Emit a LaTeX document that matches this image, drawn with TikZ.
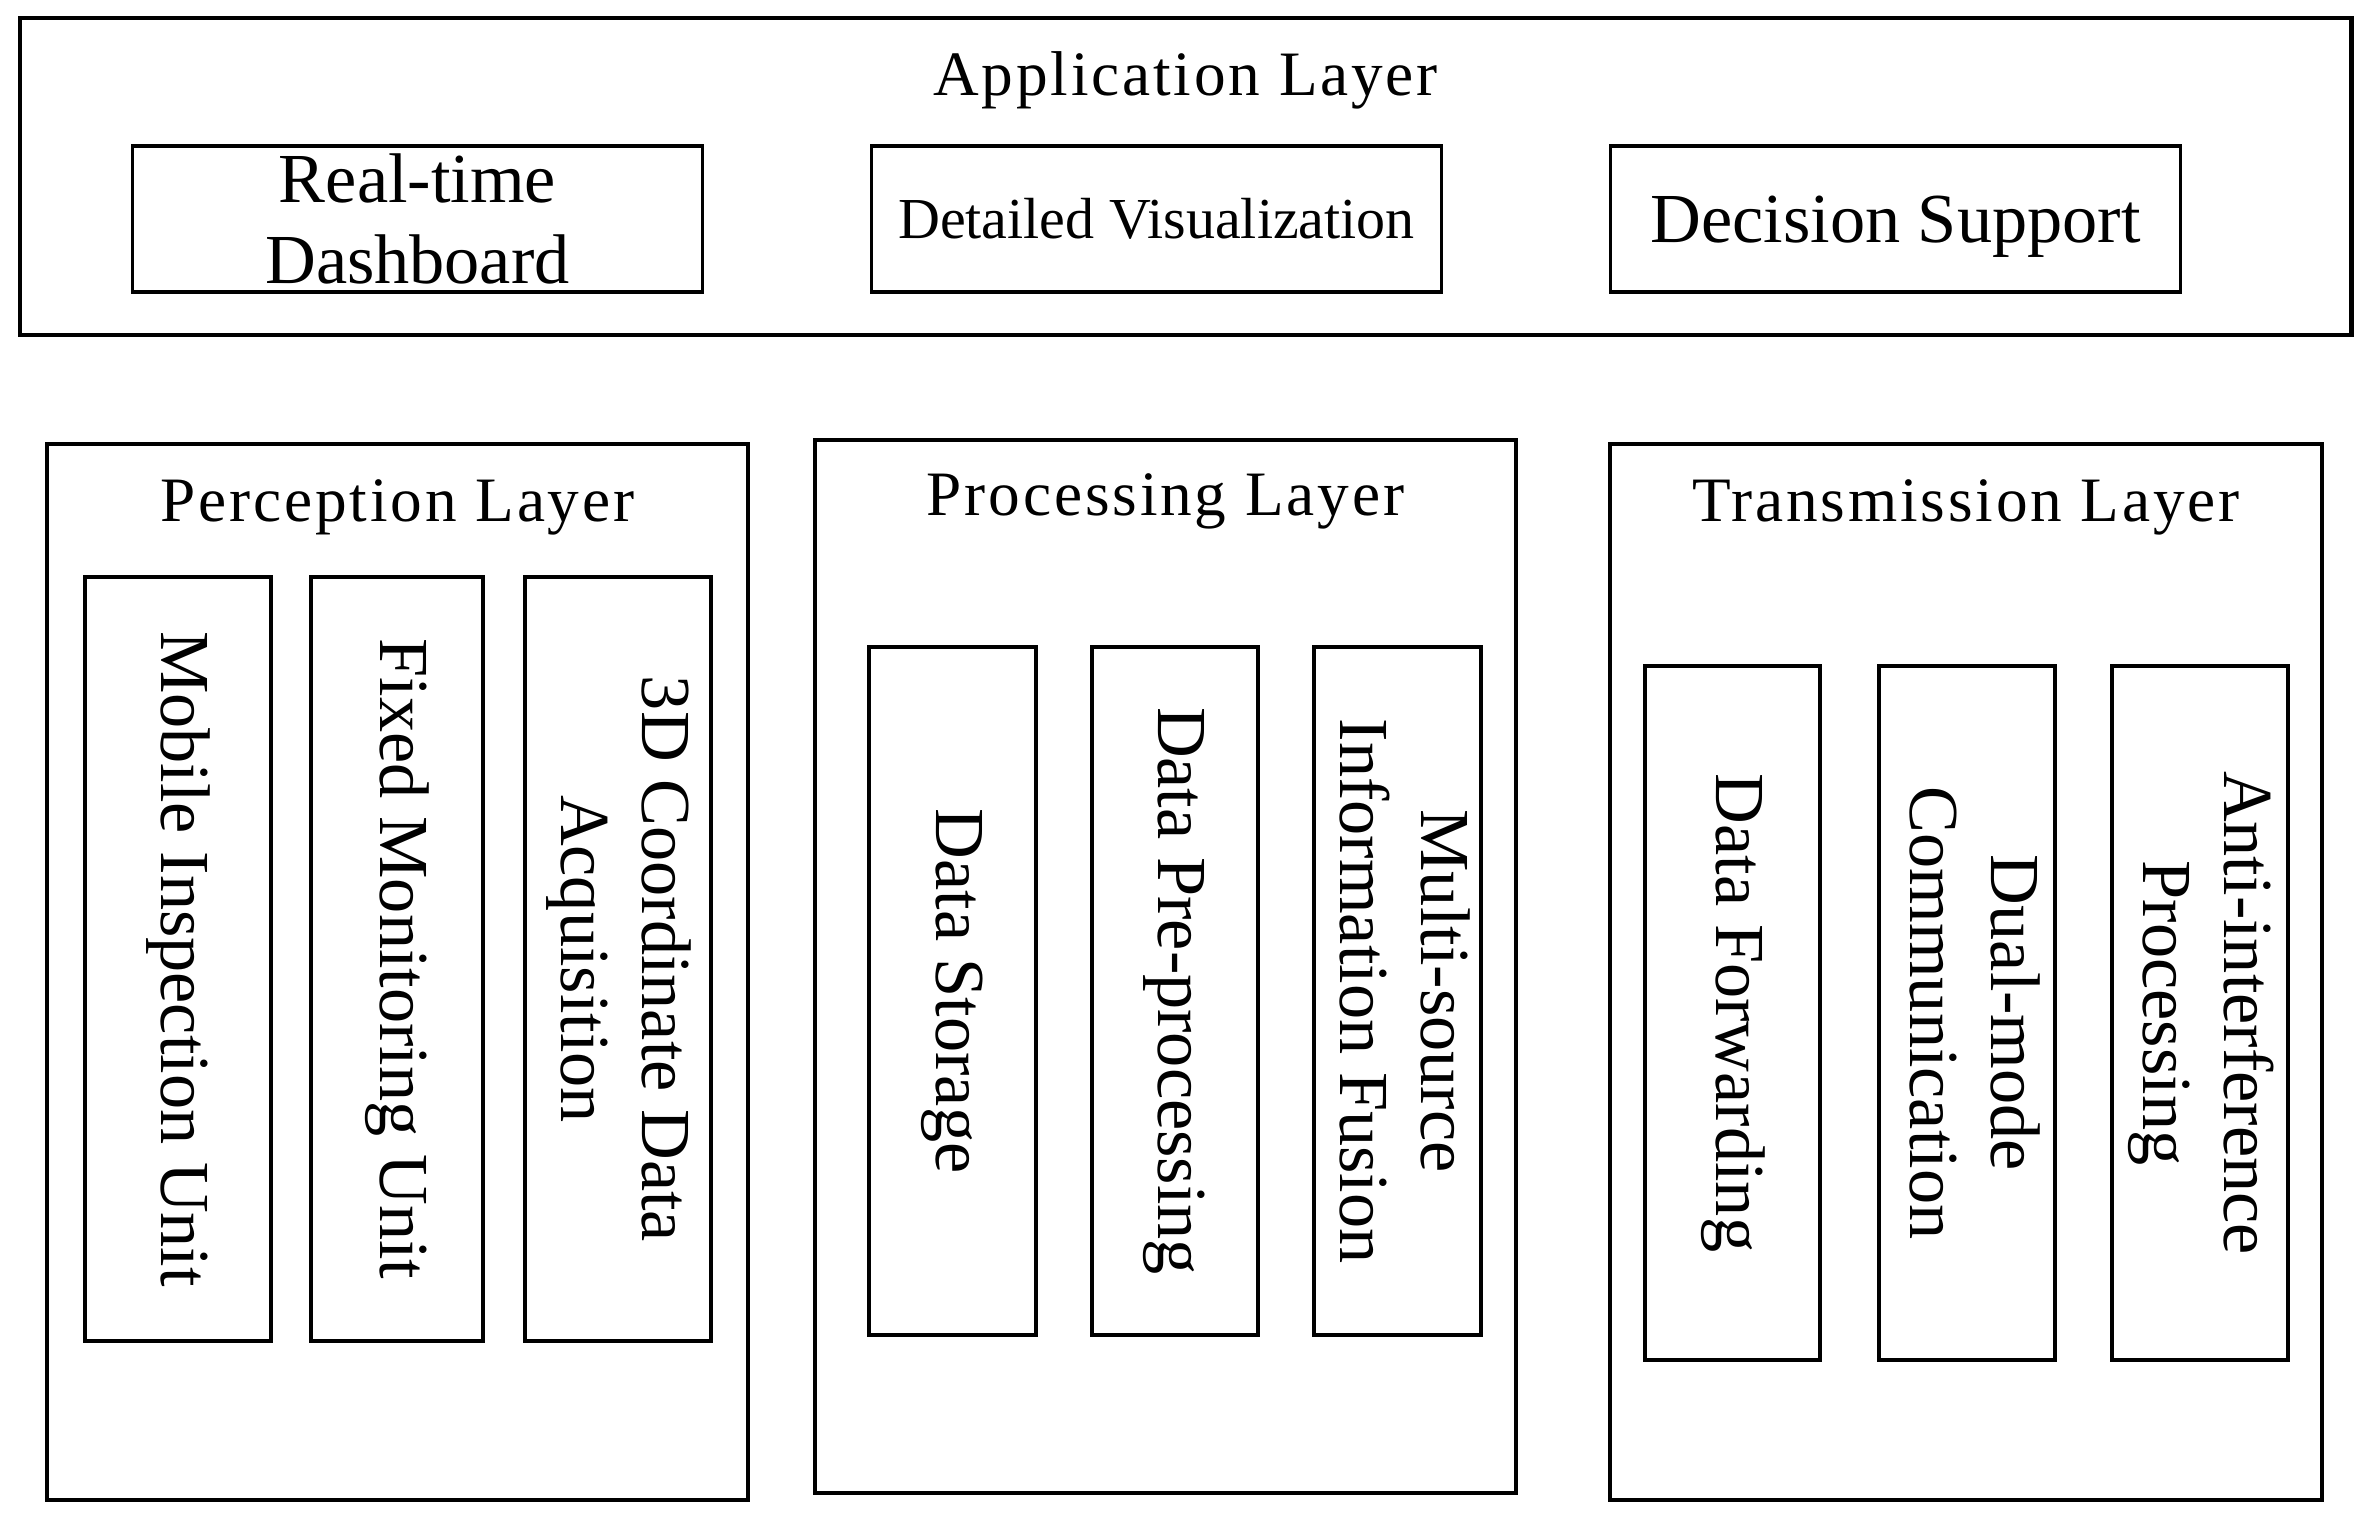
\documentclass[tikz,border=0pt]{standalone}
\usepackage{fontspec}
\usepackage{graphicx}
\setmainfont{Liberation Serif}
\newfontfamily\layerfont[LetterSpace=4.5]{Liberation Serif}
\usepackage{tikz}
\usetikzlibrary{positioning,calc}
\newcommand{\vtext}[1]{\rotatebox{-90}{\begin{tabular}{@{}c@{}}#1\end{tabular}}}

\begin{document}
\begin{tikzpicture}[every node/.style={font=\fontsize{20}{23}\selectfont,align=center,outer sep=0pt},
  layer/.style={draw,line width=1.1pt,minimum width=#1,minimum height=10.56cm},
  ttl/.style={font=\layerfont\fontsize{18}{21}\selectfont,anchor=base},
  appbox/.style={draw,line width=1.1pt,inner sep=1pt,minimum width=5.70cm,minimum height=1.46cm},
  unit/.style={draw,line width=1.1pt,inner sep=0pt,minimum width=#1}]
\useasboundingbox (0,0) rectangle (23.68,-15.18);
% application layer
\node[draw,line width=1.4pt,minimum width=23.31cm,minimum height=3.17cm] (app) at (11.855,-1.765) {};
\node[ttl] (apptitle) at ($(app.north)+(0,-0.77)$) {Application Layer};
\node[appbox] (dash) at (4.175,-2.19) {Real-time\\ Dashboard};
\node[appbox,right=1.69cm of dash,font=\fontsize{16.5}{19}\selectfont] (vis) {Detailed Visualization};
\node[appbox,right=1.69cm of vis,text depth=0pt] (dec) {Decision Support};
% perception layer
\node[layer=7.01cm] (perc) at (3.975,-9.72) {};
\node[ttl] (perctitle) at ($(perc.north)+(0,-0.77)$) {Perception Layer};
\node[unit=1.86cm,minimum height=7.64cm] (mob) at (1.78,-9.59) {\vtext{Mobile Inspection Unit}};
\node[unit=1.72cm,minimum height=7.64cm,right=0.40cm of mob] (fix) {\vtext{Fixed Monitoring Unit}};
\node[unit=1.86cm,minimum height=7.64cm,right=0.42cm of fix] (coord) {\vtext{3D Coordinate Data\\ Acquisition}};
% processing layer
\node[layer=7.01cm,minimum height=10.53cm] (proc) at (11.655,-9.665) {};
\node[ttl] (proctitle) at ($(proc.north)+(0,-0.75)$) {Processing Layer};
\node[unit=1.67cm,minimum height=6.88cm] (store) at (9.525,-9.91) {\vtext{Data Storage}};
\node[unit=1.66cm,minimum height=6.88cm,right=0.56cm of store] (pre) {\vtext{Data Pre-processing}};
\node[unit=1.67cm,minimum height=6.88cm,right=0.56cm of pre] (fus) {\vtext{Multi-source\\ Information Fusion}};
% transmission layer
\node[layer=7.12cm] (trans) at (19.66,-9.72) {};
\node[ttl] (transtitle) at ($(trans.north)+(0,-0.77)$) {Transmission Layer};
\node[unit=1.75cm,minimum height=6.94cm] (fwd) at (17.325,-10.13) {\vtext{Data Forwarding}};
\node[unit=1.76cm,minimum height=6.94cm,right=0.59cm of fwd] (dual) {\vtext{Dual-mode\\ Communication}};
\node[unit=1.76cm,minimum height=6.94cm,right=0.57cm of dual] (anti) {\vtext{Anti-interference\\ Processing}};
\end{tikzpicture}
\end{document}
